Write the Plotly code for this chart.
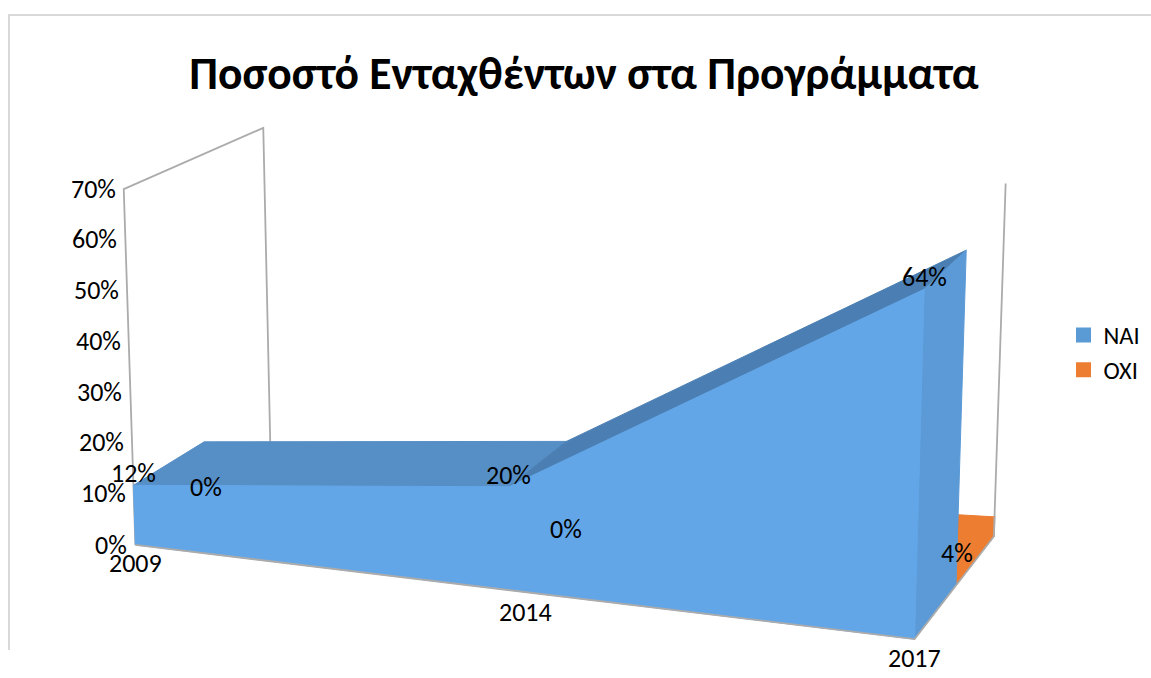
import numpy as np
import plotly.graph_objects as go

YEARS = ["2009", "2014", "2017"]
NAI = [12, 20, 64]
OXI = [0, 0, 4]
NAI_LABELS = ["12%", "20%", "64%"]
OXI_LABELS = ["0%", "0%", "4%"]
TICKS = [0, 10, 20, 30, 40, 50, 60, 70]
SERIES_NAMES = ["ΝΑΙ", "ΟΧΙ"]
SERIES_COLORS = ["#5B9BD5", "#ED7D31"]

# Perspective camera of the 3-D area chart: (category, depth, value) -> screen
CAMERA = np.array([0.70841, 0.15837, -0.01495, 0.13539,
                   0.04476, -0.04867, -0.36084, 0.54493,
                   -0.07737, 0.08573, -0.02669, 1.00000]).reshape(3, 4)
CAT = list(range(len(YEARS)))
LAST = CAT[-1]
VMAX = TICKS[-1]


def proj(x, y, z):
    h = CAMERA @ np.array([x / 2, y / 2, z / 70, 1.0])
    return 1000 * h[0] / h[2], 1000 * h[1] / h[2]


fig = go.Figure()


def poly(pts, color):
    P = [proj(*p) for p in pts] + [proj(*pts[0])]
    fig.add_trace(go.Scatter(x=[q[0] for q in P], y=[q[1] for q in P], mode="lines", fill="toself",
                             fillcolor=color, line=dict(color=color, width=1),
                             hoverinfo="skip", showlegend=False))


def seg(pts, color="#ABABAB", w=1.8):
    P = [proj(*p) for p in pts]
    fig.add_trace(go.Scatter(x=[q[0] for q in P], y=[q[1] for q in P], mode="lines",
                             line=dict(color=color, width=w), hoverinfo="skip", showlegend=False))


# walls
seg([(0, 0, 0), (0, 0, VMAX), (0, 2, VMAX), (0, 2, 0)])
seg([(LAST, 2, 0), (LAST, 2, VMAX)])

# OXI ribbon (depth 1..2)
for i in CAT[:-1]:
    poly([(i, 1, OXI[i]), (i, 2, OXI[i]), (i + 1, 2, OXI[i + 1]), (i + 1, 1, OXI[i + 1])], SERIES_COLORS[1])
poly([(LAST, 1, 0), (LAST, 2, 0), (LAST, 2, OXI[-1]), (LAST, 1, OXI[-1])], SERIES_COLORS[1])

# NAI ribbon (depth 0..1)
for i, c in zip(CAT[:-1], ["#568EC6", "#4B7FB3"]):
    poly([(i, 0, NAI[i]), (i, 1, NAI[i]), (i + 1, 1, NAI[i + 1]), (i + 1, 0, NAI[i + 1])], c)
poly([(LAST, 0, 0), (LAST, 1, 0), (LAST, 1, NAI[-1]), (LAST, 0, NAI[-1])], "#5B9AD6")
poly([(i, 0, NAI[i]) for i in CAT] + [(LAST, 0, 0), (0, 0, 0)], "#62A6E8")
seg([(0, 0, 0), (LAST, 0, 0), (LAST, 2, 0), (LAST, 2, OXI[-1])])

for nm, col in zip(SERIES_NAMES, SERIES_COLORS):
    fig.add_trace(go.Scatter(x=[None], y=[None], mode="markers", name=nm,
                             marker=dict(symbol="square", size=15, color=col)))

ann = []
for t, dy in zip(TICKS, [0, 2, 3, 3, 3, 3, 2, 0]):
    a, b = proj(0, 0, t)
    ann.append(dict(text=f"{t}%", x=a, y=b, showarrow=False, xanchor="right", xshift=-6, yshift=dy))
for i, yr, dx, dy in zip(CAT, YEARS, [0, 16, 0], [-18, -22, -19]):
    a, b = proj(i, 0, 0)
    ann.append(dict(text=yr, x=a, y=b, showarrow=False, xshift=dx, yshift=dy))
for i, l in zip(CAT, NAI_LABELS):
    a, b = proj(i, 0, NAI[i])
    ann.append(dict(text=l, x=a, y=b, showarrow=False, yshift=12))
for i, l in zip(CAT, OXI_LABELS):
    a, b = proj(i, 1, OXI[i])
    ann.append(dict(text=l, x=a, y=b, showarrow=False, yshift=12))

fig.update_layout(
    width=1151, height=678, margin=dict(l=0, r=0, t=0, b=0),
    paper_bgcolor="white", plot_bgcolor="white",
    font=dict(family="Carlito, Lato, sans-serif", size=26, color="black"),
    title=dict(text="<b>Ποσοστό Ενταχθέντων στα Προγράμματα</b>", x=584 / 1151, y=1 - 57.5 / 678,
               font=dict(size=45.5)),
    legend=dict(x=1075.5 / 1151, y=1 - 312.5 / 678, xanchor="left", yanchor="top", indentation=-12,
                font=dict(size=24.5)),
    annotations=ann,
    xaxis=dict(visible=False, range=[0, 1151]),
    yaxis=dict(visible=False, range=[678, 0]),
    shapes=[dict(type="line", x0=9, x1=9, y0=15, y1=650, line=dict(color="#D9D9D9", width=2)),
            dict(type="line", x0=8, x1=1151, y0=15, y1=15, line=dict(color="#D9D9D9", width=2))],
)
fig.write_html("out.html", config=dict(displayModeBar=False),
               post_script="document.body.style.margin='0';document.body.style.overflow='hidden';")
